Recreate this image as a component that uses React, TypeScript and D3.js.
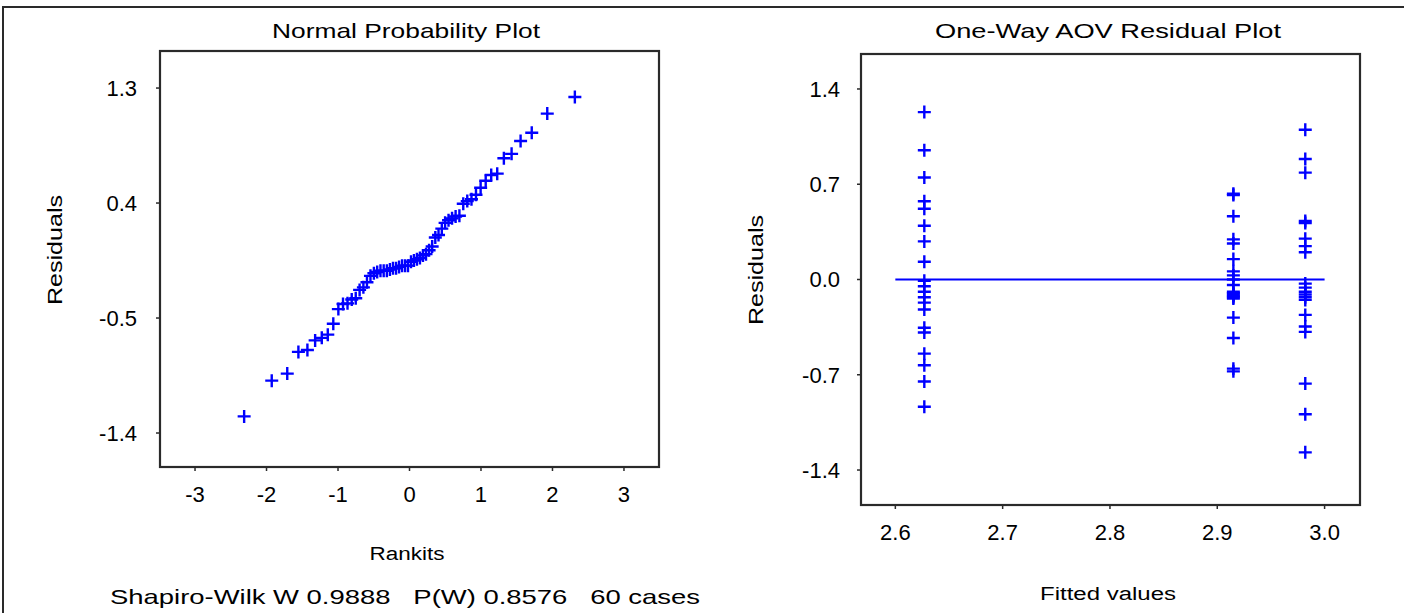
import * as d3 from "d3";

// residuals per group
const fittedValues = [2.627, 2.915, 2.982];
const group1 = [1.23, 0.95, 0.75, 0.575, 0.52, 0.395, 0.28, 0.13, -0.01, -0.05, -0.09, -0.13, -0.17, -0.22, -0.355, -0.39, -0.545, -0.63, -0.75, -0.935];
const group2 = [0.63, 0.62, 0.465, 0.295, 0.265, 0.15, 0.06, 0.03, 0.0, -0.04, -0.09, -0.1, -0.11, -0.12, -0.13, -0.14, -0.28, -0.43, -0.655, -0.675];
const group3 = [1.1, 0.885, 0.785, 0.43, 0.415, 0.3, 0.245, 0.2, -0.03, -0.06, -0.09, -0.11, -0.13, -0.15, -0.26, -0.345, -0.385, -0.765, -0.99, -1.27];

// expected normal order statistics for 60 cases
const rankits = [
  -2.313, -1.927, -1.71, -1.554, -1.428, -1.32, -1.227, -1.143, -1.066, -0.995,
  -0.93, -0.867, -0.808, -0.752, -0.698, -0.645, -0.595, -0.546, -0.498, -0.452,
  -0.406, -0.361, -0.317, -0.274, -0.231, -0.188, -0.146, -0.104, -0.062, -0.021,
  0.021, 0.062, 0.104, 0.146, 0.188, 0.231, 0.274, 0.317, 0.361, 0.406,
  0.452, 0.498, 0.546, 0.595, 0.645, 0.698, 0.752, 0.808, 0.867, 0.93,
  0.995, 1.066, 1.143, 1.227, 1.32, 1.428, 1.554, 1.71, 1.927, 2.313,
];

const leftXTicks = [-3, -2, -1, 0, 1, 2, 3];
const leftYTicks = [1.3, 0.4, -0.5, -1.4];
const rightXTicks = [2.6, 2.7, 2.8, 2.9, 3.0];
const rightYTicks = [1.4, 0.7, 0.0, -0.7, -1.4];

const FONT = "'Liberation Sans', Arial, sans-serif";
const BLUE = "#0000ff";
const FRAME = "#2a2a2a";

function Cross({ x, y }: { x: number; y: number }) {
  return (
    <path
      d={`M${x - 6.5},${y}H${x + 6.5}M${x},${y - 6.5}V${y + 6.5}`}
      stroke={BLUE}
      strokeWidth={2.4}
      fill="none"
    />
  );
}

export default function App() {
  const groups = [group1, group2, group3];
  const allResiduals = groups.flat().slice().sort(d3.ascending);

  // left panel: normal probability plot
  const lx = d3.scaleLinear().domain([-3.49, 3.49]).range([160, 659]);
  const ly = d3.scaleLinear().domain([-1.666, 1.59]).range([467, 51]);

  // right panel: residuals vs fitted
  const rx = d3.scaleLinear().domain([2.568, 3.033]).range([861, 1360]);
  const ry = d3.scaleLinear().domain([-1.657, 1.657]).range([505, 54]);

  const [lx0, lx1] = lx.range();
  const [ly0, ly1] = ly.range();
  const [rx0, rx1] = rx.range();
  const [ry0, ry1] = ry.range();

  return (
    <svg
      width={1404}
      height={613}
      style={{ position: "absolute", left: 0, top: 0, background: "#fff" }}
      fontFamily={FONT}
    >
      {/* outer border */}
      <path d="M3,613V7H1404" fill="none" stroke={FRAME} strokeWidth={2} />

      {/* ---------- left panel ---------- */}
      <text x={406} y={38} textAnchor="middle" fontSize={21} textLength={268} lengthAdjust="spacingAndGlyphs">
        Normal Probability Plot
      </text>
      <rect x={lx0} y={ly1} width={lx1 - lx0} height={ly0 - ly1} fill="none" stroke={FRAME} strokeWidth={2.2} />
      {leftYTicks.map((t) => (
        <g key={t}>
          <line x1={lx0 - 4} x2={lx0} y1={ly(t)} y2={ly(t)} stroke={FRAME} strokeWidth={1.5} />
          <text x={137} y={ly(t)} dy="0.36em" textAnchor="end" fontSize={22}>
            {t.toFixed(1)}
          </text>
        </g>
      ))}
      {leftXTicks.map((t) => (
        <g key={t}>
          <line x1={lx(t)} x2={lx(t)} y1={ly0} y2={ly0 + 4} stroke={FRAME} strokeWidth={1.5} />
          <text x={lx(t)} y={502} textAnchor="middle" fontSize={22}>
            {t}
          </text>
        </g>
      ))}
      <text
        transform="translate(62,250) rotate(-90)"
        textAnchor="middle"
        fontSize={20}
        textLength={110}
        lengthAdjust="spacingAndGlyphs"
      >
        Residuals
      </text>
      <text x={407} y={560} textAnchor="middle" fontSize={18} textLength={75} lengthAdjust="spacingAndGlyphs">
        Rankits
      </text>
      <text
        x={405}
        y={604}
        textAnchor="middle"
        fontSize={21}
        textLength={590}
        lengthAdjust="spacingAndGlyphs"
        style={{ whiteSpace: "pre" }}
      >
        {"Shapiro-Wilk W 0.9888   P(W) 0.8576   60 cases"}
      </text>
      {allResiduals.map((r, i) => (
        <Cross key={i} x={lx(rankits[i])} y={ly(r)} />
      ))}

      {/* ---------- right panel ---------- */}
      <text x={1108} y={38} textAnchor="middle" fontSize={21} textLength={346} lengthAdjust="spacingAndGlyphs">
        One-Way AOV Residual Plot
      </text>
      <rect x={rx0} y={ry1} width={rx1 - rx0} height={ry0 - ry1} fill="none" stroke={FRAME} strokeWidth={2.2} />
      {rightYTicks.map((t) => (
        <g key={t}>
          <line x1={rx0 - 4} x2={rx0} y1={ry(t)} y2={ry(t)} stroke={FRAME} strokeWidth={1.5} />
          <text x={840} y={ry(t)} dy="0.36em" textAnchor="end" fontSize={22}>
            {t.toFixed(1)}
          </text>
        </g>
      ))}
      {rightXTicks.map((t) => (
        <g key={t}>
          <line x1={rx(t)} x2={rx(t)} y1={ry0} y2={ry0 + 4} stroke={FRAME} strokeWidth={1.5} />
          <text x={rx(t)} y={540} textAnchor="middle" fontSize={22}>
            {t.toFixed(1)}
          </text>
        </g>
      ))}
      <text
        transform="translate(763,270) rotate(-90)"
        textAnchor="middle"
        fontSize={20}
        textLength={110}
        lengthAdjust="spacingAndGlyphs"
      >
        Residuals
      </text>
      <text x={1108} y={600} textAnchor="middle" fontSize={18} textLength={136} lengthAdjust="spacingAndGlyphs">
        Fitted values
      </text>
      <line x1={rx(2.6)} x2={rx(3.0)} y1={ry(0)} y2={ry(0)} stroke={BLUE} strokeWidth={2} />
      {groups.map((g, gi) =>
        g.map((r, i) => <Cross key={`${gi}-${i}`} x={rx(fittedValues[gi])} y={ry(r)} />)
      )}
    </svg>
  );
}
